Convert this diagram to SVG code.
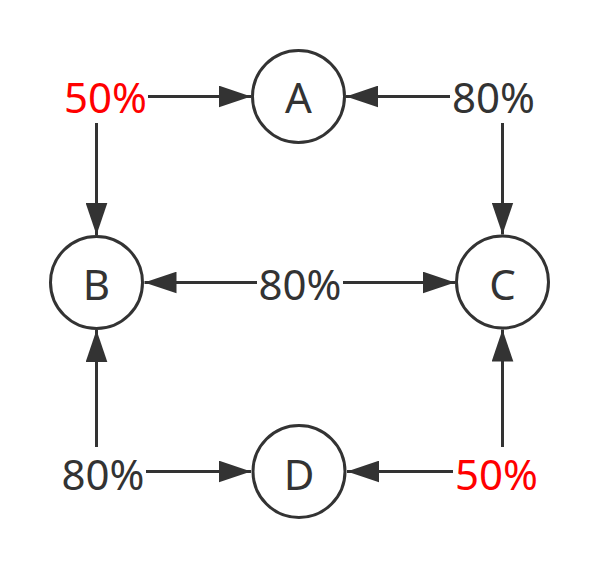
<svg xmlns="http://www.w3.org/2000/svg" width="600" height="570" viewBox="0 0 600 570">
<style>
.node circle{fill:#fff;stroke:#333;stroke-width:3}
text{font-family:"Noto Sans","Open Sans","Liberation Sans",sans-serif;font-size:42px;text-anchor:middle;fill:#333}
.red{fill:#ff0000}
.edge{stroke:#333;stroke-width:3;fill:none;marker-end:url(#ah)}
</style>
<defs>
<marker id="ah" markerUnits="userSpaceOnUse" markerWidth="32" markerHeight="22" viewBox="0 0 31 21" refX="31" refY="10.5" orient="auto">
<path d="M0,0 L31,10.5 L0,21 z" fill="#333"/>
</marker>
</defs>
<rect width="600" height="570" fill="#fff"/>
<g id="connectors">
<line class="edge" x1="148" y1="96.5" x2="251" y2="96.5"/>
<line class="edge" x1="450" y1="96.5" x2="346" y2="96.5"/>
<line class="edge" x1="96.5" y1="123" x2="96.5" y2="235"/>
<line class="edge" x1="502.5" y1="123" x2="502.5" y2="234.5"/>
<line class="edge" x1="257" y1="282.5" x2="144.5" y2="282.5"/>
<line class="edge" x1="343" y1="282.5" x2="455" y2="282.5"/>
<line class="edge" x1="96.5" y1="447" x2="96.5" y2="330"/>
<line class="edge" x1="502.5" y1="447" x2="502.5" y2="329.5"/>
<line class="edge" x1="146" y1="471.5" x2="251" y2="471.5"/>
<line class="edge" x1="453" y1="471.5" x2="347" y2="471.5"/>
</g>
<g id="A" class="node"><circle cx="298.5" cy="96.5" r="46"/><text x="298.5" y="113">A</text></g>
<g id="B" class="node"><circle cx="96.5" cy="282.5" r="46"/><text x="96.5" y="300">B</text></g>
<g id="C" class="node"><circle cx="502.5" cy="282" r="46"/><text x="502.5" y="300">C</text></g>
<g id="D" class="node"><circle cx="299" cy="471.5" r="46"/><text x="299" y="490">D</text></g>
<g id="labels">
<text class="red" x="105.5" y="113">50%</text>
<text x="493.5" y="113">80%</text>
<text x="300" y="300">80%</text>
<text x="103" y="490">80%</text>
<text class="red" x="496.5" y="490">50%</text>
</g>
</svg>
